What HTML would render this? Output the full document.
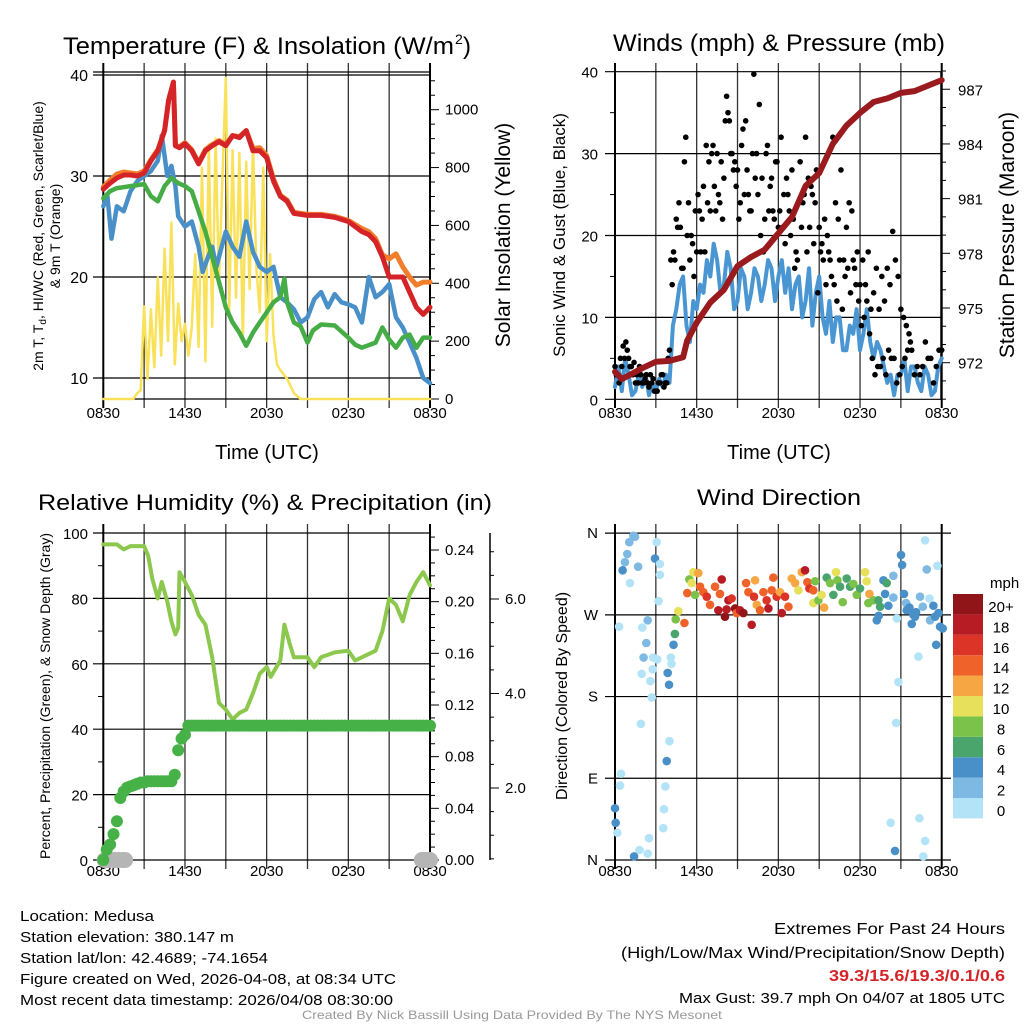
<!DOCTYPE html>
<html><head><meta charset="utf-8"><style>
html,body{margin:0;padding:0;background:#fff;}
svg{display:block;font-family:"Liberation Sans",sans-serif;}
</style></head><body>
<svg id="fig" width="1024" height="1024" viewBox="0 0 1024 1024" xmlns="http://www.w3.org/2000/svg"></svg>
<script>
// ---- Temperature panel data ----
const redTimes=[0,0.5,1,1.5,2,2.5,3,3.5,4,4.5,4.8,5.15,5.3,5.6,6,6.5,7,7.5,8,8.5,9,9.5,10,10.5,11,11.5,12,12.5,13,13.5,14,15,16,17,18,18.5,19,19.5,20,20.5,21,21.5,22,22.5,23,23.5,24];
const tempRed=[28.7,29.3,29.8,30.1,30.1,30.0,30.3,31.5,32.5,34.5,37.5,39.3,33,32.8,33.2,32.5,31.2,32.5,33,33.4,33,34,33.8,34.5,32.5,32.5,31.8,29.5,28,27.5,26.3,26.1,26.1,25.9,25.5,25,24.5,24.2,23.5,22,20,20,20,18.5,17,16.3,17];
const temp9m=[28.9,29.6,30.2,30.4,30.3,30.2,30.5,31.6,32.6,34.5,37.5,39.3,33,32.9,33.3,32.6,31.3,32.6,33.1,33.5,33.1,34,33.9,34.5,32.7,32.8,32,29.7,28.1,27.6,26.4,26.2,26.2,26,25.6,25.2,24.8,24.5,23.8,22.2,21.8,22.3,21,20,19.2,19.5,19.5];
const dewTimes=[0,0.5,1,2,3,3.5,4,4.5,5,5.5,6,6.5,7,7.5,8,8.5,9,9.5,10,10.5,11,11.5,12,12.5,13,13.3,13.5,14,14.5,15,15.4,16,17,18,18.5,19,20,20.5,21,21.5,22,22.5,23,23.5,24];
const dewGreen=[27.8,28.5,28.8,29,29.2,28,27.5,29,29.8,29.3,29,28.5,26.5,24.5,22,19.5,17,15.5,14.5,13.2,14.5,15.5,16.5,17.5,18,19.8,17.5,15.5,15.1,13.5,14.7,15.3,15.2,14,13.3,13,13.5,15,13.8,13,14,14.3,13,14,14];
const hiTimes=[0,0.3,0.6,1,1.5,2,2.5,3,3.5,4,4.3,4.7,5,5.3,5.5,6,6.5,7,7.3,7.7,8,8.3,8.5,9,9.5,10,10.5,11,11.5,12,12.5,13,13.5,14,14.5,15,15.5,16,16.5,17,17.5,18,18.5,19,19.5,20,20.5,21,21.5,22,22.5,23,23.5,24];
const hiBlue=[27,28,23.8,27,26.5,28.5,29.5,30,30.5,31.5,34,30,31,29,26,25,25.5,23,20.5,22,23,21,22,24.5,23,22,25.5,22.5,21,20.5,21,18,17.5,16.8,15.5,16,17.8,18.5,17,18.3,17.5,17.3,17,15.5,20,18,18.5,19.3,16,15,13.5,12,10,9.5];
const insTimes=[0,2.2,2.5,2.75,3,3.25,3.5,3.75,4,4.25,4.5,4.75,5,5.25,5.5,5.75,6,6.25,6.5,6.75,7,7.25,7.5,7.75,8,8.25,8.5,8.75,9,9.25,9.5,9.75,10,10.25,10.5,10.75,11,11.25,11.5,11.75,12,12.25,12.5,12.75,13,13.5,14,14.5,24];
const insolation=[0,0,20,30,320,70,310,110,420,150,520,200,610,120,330,200,260,150,250,500,180,800,130,880,250,900,400,760,1110,300,860,350,850,200,820,380,880,450,300,800,200,500,220,120,100,70,20,0,0];
const tempTicks=[10,20,30,40];
const insTicks=[0,200,400,600,800,1000];
const timeLabels=["0830","1430","2030","0230","0830"];
// ---- Wind panel data ----
const windSpeed=[1.5,4,1,5,3,0.5,1,3,1.5,3,0.5,2,1,2.5,1.5,3,2,9,11,14,15,9,7,12,11,14,13,17,15,19,17,13,14,18,16,11,12,16,15,11,13,16,15,12,14,17,16,12,15,17,13,16,11,14,15,10,12,16,9,13,15,10,8,12,7,10,10,6,6,9,8,11,6,8,11,7,5,7,6,4,2,3,0.5,3,3,5,1,4,4,2,1,4,3,0.5,1,4,5];
const gustA=[4,3,5,6.5,7,5,4,4.5,3,4,2,2.5,2,3,2.5,1,2,3,1.5,2,6,14,17,21,21,16,32,24,20,15,18,23,22,18,24,23,31,23,25,29,27,37,34,30,29,28,24,33,34,25,23,39.7,30,36,27,22,31,26,23,29,21,32,25,27,23,28,16,17,29,24,32,27,26,19,28,21,19,22,20,17,32,24,22,28,17,21,24,23,16,18,14,17,14,18,11,13,16,11,15,12,16,14,20.5,17,15,11,10,9,8,6,3,4,3,4,7,5,5,2,4,6,6];
const gustB=[3,2,4,5,6,4,3,2,2,3,2,3,1.5,2,1,1,2,3,2,5,17,18,22,24,16,29,20,17,19,23,25,18,26,31,29,30,26,30,24,22,34,35,30,28,26,22,31,25,28,23,30,27,25,20,18,30,23,27,22,29,23,21,19,25,20,22,18,24,21,25,18,21,25,24,13,18,17,14,18,15,14,12,17,11,15,16,13,17,14,12,9,10,12,8,5,3,4,4,5,3,6,5,5,2,3,4,5,6,7];
const presTimes=[0,0.5,1,2,3,4,5,5.3,6,7,8,9,10,11,12,13,14,15,16,17,18,19,20,21,22,23,24];
const pressure=[971.5,971.1,971.3,971.7,972.05,972.1,972.3,973.2,974.2,975.3,976,977.3,977.8,978.2,979.1,980,981.7,982.4,984,985,985.7,986.3,986.5,986.8,986.9,987.2,987.5];
const windTicks=[0,10,20,30,40];
const presTicks=[972,975,978,981,984,987];
// ---- RH / precip panel data ----
const rhTimes=[0,1,1.5,2,3,3.3,3.6,4,4.3,4.7,5,5.3,5.5,5.6,6,6.5,7,7.5,8,8.5,9,9.5,10,10.5,11,11.5,12,12.3,13,13.3,13.7,14,15,15.5,16,17,18,18.5,19,20,20.5,21,21.5,22,22.5,23,23.5,24];
const rhValues=[96.5,96.5,95,96,96,93,86,80,85,79,73,69,71,88,85,81,75,72,62,48,46,43,45,46,51,57,59,56,61,72,66,62,62,59,62,63.5,64,61,62,64,70,80,78,73,81,85,88,84];
const precipValues=[0,0.008,0.012,0.02,0.03,0.048,0.053,0.056,0.057,0.058,0.059,0.06,0.06,0.061,0.061,0.061,0.061,0.061,0.061,0.061,0.061,0.066,0.085,0.094,0.097,0.104,0.104,0.104,0.104,0.104,0.104,0.104,0.104,0.104,0.104,0.104,0.104,0.104,0.104,0.104,0.104,0.104,0.104,0.104,0.104,0.104,0.104,0.104,0.104,0.104,0.104,0.104,0.104,0.104,0.104,0.104,0.104,0.104,0.104,0.104,0.104,0.104,0.104,0.104,0.104,0.104,0.104,0.104,0.104,0.104,0.104,0.104,0.104,0.104,0.104,0.104,0.104,0.104,0.104,0.104,0.104,0.104,0.104,0.104,0.104,0.104,0.104,0.104,0.104,0.104,0.104,0.104,0.104,0.104,0.104,0.104,0.104];
const snowTimes=[0.1,0.4,0.8,1.1,1.4,1.6,23.4,23.6,23.8,24];
const snowDepth=[0,0,0,0,0,0,0,0,0,0];
const rhTicks=[0,20,40,60,80,100];
const precipTicks=[0,0.04,0.08,0.12,0.16,0.20,0.24];
const snowTicks=[2.0,4.0,6.0];
// ---- Wind direction data ----
const dirTimes=[1.35,1.47,1.05,0.9,0.73,0.56,1.7,1.1,3.06,2.94,3.3,3.3,3.2,0.3,2.4,2.0,2.3,2.1,2.8,3.1,1.96,2.77,2.6,2.7,1.9,0.44,0.37,0,0.05,0.17,1.4,1.8,2.5,2.4,3.55,3.6,3.7,3.8,4.0,3.97,3.87,4.1,4.15,4.3,4.4,4.46,4.65,5.1,
5.31,5.46,5.76,6.12,5.63,5.88,6.25,6.49,6.74,6.98,7.35,7.59,7.84,7.71,8.08,8.33,8.2,8.57,8.82,8.94,9.18,9.43,9.63,9.8,10.04,10.21,10.29,10.41,10.65,10.9,11.14,11.27,11.51,11.63,11.88,12.12,12.25,12.49,12.74,12.98,13.23,13.47,13.72,13.96,14.13,14.28,14.57,14.7,14.57,14.94,15.18,15.36,15.55,15.8,16.04,16.24,16.34,16.53,16.73,17.02,17.27,17.51,17.76,18.0,18.37,18.49,18.69,18.61,18.98,19.35,19.47,19.72,19.96,20.08,19.84,20.45,20.45,20.7,21.01,21.09,21.23,21.38,21.63,21.92,21.8,22.12,22.29,22.41,22.61,22.78,22.9,23.1,23.14,23.39,23.51,23.59,23.68,23.76,23.88,24.07,19.23,19.37,20.82,20.65,20.25,20.57,22.36,22.78,22.65,21.43,22.04];
const dirDegrees=[357,356,350,337,328,319,323,305,350,332,326,314,285,257,264,256,239,223,223,221,205,210,197,179,150,95,82,57,41,30,4,11,24,7,35,56,81,109,131,193,206,223,216,237,249,265,274,261,
294,309,317,316,305,292,301,295,290,281,301,275,309,293,268,286,276,288,277,272,275,272,305,295,259,290,308,281,275,295,286,277,297,311,290,295,272,290,279,310,305,297,317,319,306,299,297,307,283,286,292,278,311,305,292,317,308,301,284,310,301,304,292,299,317,307,293,283,286,286,279,308,305,280,293,313,289,266,336,325,293,283,278,270,260,273,224,290,279,352,320,288,264,280,268,237,324,272,257,255,264,269,196,151,41,10,46,21,4,275,268];
const dirSpeeds=[2,2,3,3,3,4,3,1,1,4,1,1,1,1,3,1,3,3,1,1,1,1,1,1,1,1,1,4,4,1,4,1,1,1,1,1,1,4,1,4,4,1,1,4,6,8,10,14,
14,8,10,12,10,8,14,14,16,14,14,18,18,14,20,18,18,16,20,14,18,20,14,14,18,16,12,12,14,14,16,18,14,14,16,12,18,16,14,12,12,10,12,18,14,16,14,8,10,8,10,12,6,8,6,10,8,6,8,6,6,8,8,6,10,10,12,8,8,6,6,4,6,4,4,2,2,0,4,4,4,2,4,4,4,4,1,2,2,1,2,1,2,4,4,4,1,4,4,4,4,4,1,1,1,4,1,1,1,4,4];
const dirLabels=["N","E","S","W","N"];
const speedBins=["0","2","4","6","8","10","12","14","16","18","20+"];
const binColors=["#b3e3f7","#7db9e2","#4a90c8","#4aa56d","#7bc24a","#e6e05a","#f6a744","#ef6229","#dc3426","#b71c24","#8f1518"];

const NS="http://www.w3.org/2000/svg";
const svg=document.getElementById('fig');
function mk(tag,attrs,parent){const e=document.createElementNS(NS,tag);for(const k in attrs)e.setAttribute(k,attrs[k]);(parent||svg).appendChild(e);return e;}
function txt(s,x,y,size,anchor,parent,extra){const e=mk('text',Object.assign({x:x,y:y,'font-size':size,'text-anchor':anchor||'start',fill:'#000'},extra||{}),parent);e.textContent=s;return e;}
function poly(ts,vs,fx,fy,stroke,w,parent){let d='';for(let i=0;i<ts.length;i++)d+=(i?'L':'M')+fx(ts[i]).toFixed(1)+','+fy(vs[i]).toFixed(1);return mk('path',{d:d,fill:'none',stroke:stroke,'stroke-width':w,'stroke-linejoin':'round','stroke-linecap':'round'},parent);}

function xGrid(g,x0,y0,y1,xf,labY){
  for(let h=0;h<=24;h+=3){const x=xf(h);mk('line',{x1:x,y1:y0-9,x2:x,y2:y1+9,stroke:(h===0||h===24)?'#000':'#333','stroke-width':(h===0||h===24)?2:1.3},g);}
  for(let i=0;i<timeLabels.length;i++){const t=txt(timeLabels[i],xf(i*6),labY,15,'middle',g);}
}

// ===== Panel 1: temperature =====
{
const g=mk('g',{});
const X=h=>103.3+h*13.613, Y=v=>378-(v-10)*10.1, YS=w=>399-w*0.2893;
xGrid(g,103,72,399,X,418);
for(const v of tempTicks){mk('line',{x1:93,y1:Y(v),x2:430,y2:Y(v),stroke:'#000','stroke-width':1.2},g);const t=txt(String(v),88,Y(v)+6,16,'end',g);}
mk('line',{x1:93,y1:72,x2:430,y2:72,stroke:'#000','stroke-width':1.2},g);
mk('line',{x1:103,y1:399,x2:430,y2:399,stroke:'#000','stroke-width':1.2},g);
mk('line',{x1:430,y1:72,x2:430,y2:399,stroke:'#000','stroke-width':1.5},g);
for(let w=0;w<=1100;w+=50){const big=w%200===0;mk('line',{x1:430,y1:YS(w),x2:430+(big?9:5),y2:YS(w),stroke:'#000','stroke-width':1},g);}
for(const w of insTicks){const t=txt(String(w),445,YS(w)+5,15,'start',g);}
const ins=poly(insTimes,insolation,X,YS,'#f9e25a',2.5,g);
const hi=poly(hiTimes,hiBlue,X,Y,'#4a90c8',4.5,g);
const dg=poly(dewTimes,dewGreen,X,Y,'#46ad46',4.5,g);
const o=poly(redTimes,temp9m,X,Y,'#f27e2c',5,g);
const r=poly(redTimes,tempRed,X,Y,'#d42428',5,g);
const t1=txt('Temperature (F) & Insolation (W/m',63,54,24,'start',g,{textLength:391,lengthAdjust:'spacingAndGlyphs'});
const sup=txt('2',455,44,14,'start',g);
const cp=txt(')',463,54,24,'start',g);
const yt=mk('text',{transform:'translate(43,236) rotate(-90)','font-size':14,'text-anchor':'middle'},g);yt.innerHTML='2m T, T<tspan font-size="10" dy="3">d</tspan><tspan dy="-3">, HI/WC (Red, Green, Scarlet/Blue)</tspan>';
const yt2=txt('& 9m T (Orange)',0,0,14,'middle',g,{transform:'translate(60,236) rotate(-90)'});
const yr=txt('Solar Insolation (Yellow)',0,0,21,'middle',g,{transform:'translate(510,235) rotate(-90)'});
const xt=txt('Time (UTC)',267,459,20,'middle',g);
}
// ===== Panel 2: winds =====
{
const g=mk('g',{});
const X=h=>615+h*13.613, Y=v=>399.3-v*8.19, YP=p=>362.7-(p-972)*18.23;
xGrid(g,615,72,399,X,418);
for(const v of windTicks){mk('line',{x1:605,y1:Y(v),x2:941,y2:Y(v),stroke:'#000','stroke-width':1.2},g);const t=txt(String(v),598,Y(v)+6,15,'end',g);}
for(let v=5;v<40;v+=10)mk('line',{x1:610,y1:Y(v),x2:615,y2:Y(v),stroke:'#000'},g);
mk('line',{x1:941,y1:72,x2:941,y2:399,stroke:'#000','stroke-width':1.5},g);
for(let p=970;p<=988;p+=1){const big=(p-972)%3===0;mk('line',{x1:941,y1:YP(p),x2:941+(big?9:5),y2:YP(p),stroke:'#000'},g);}
for(const p of presTicks){const t=txt(String(p),958,YP(p)+6,15,'start',g);}
const ws=windSpeed.map((v,i)=>i*0.25);
const wl=poly(ws,windSpeed,X,Y,'#4a96d2',4,g);
for(let i=0;i<gustA.length;i++){const c=mk('circle',{cx:X(i*0.2),cy:Y(gustA[i]),r:2.8,fill:'#000'},g);}
for(let i=0;i<gustB.length;i++){const c=mk('circle',{cx:X(0.1+i*0.2),cy:Y(gustB[i]),r:2.8,fill:'#000'},g);}
const pl=poly(presTimes,pressure,X,YP,'#9a1b1e',6,g);
const t1=txt('Winds (mph) & Pressure (mb)',779,51,24,'middle',g,{textLength:332,lengthAdjust:'spacingAndGlyphs'});
const yl=txt('Sonic Wind & Gust (Blue, Black)',0,0,17,'middle',g,{transform:'translate(565,235) rotate(-90)'});
const yr=txt('Station Pressure (Maroon)',0,0,21,'middle',g,{transform:'translate(1014,235) rotate(-90)'});
const xt=txt('Time (UTC)',779,459,20,'middle',g);
}
// ===== Panel 3: RH / precip =====
{
const g=mk('g',{});
const X=h=>103.3+h*13.613, Y=v=>860-v*3.27, YP=p=>860-p*1291.7, YSn=s=>882.5-s*47.25;
xGrid(g,103,533,860,X,876);
for(const v of rhTicks){mk('line',{x1:93,y1:Y(v),x2:430,y2:Y(v),stroke:'#000','stroke-width':1.2},g);const t=txt(String(v),88,Y(v)+6,15,'end',g);}
for(let v=10;v<100;v+=20)mk('line',{x1:98,y1:Y(v),x2:103,y2:Y(v),stroke:'#000'},g);
mk('line',{x1:430,y1:533,x2:430,y2:860,stroke:'#000','stroke-width':1.5},g);
for(let k=0;k<=25;k++){const p=k*0.01;const big=k%4===0;mk('line',{x1:430,y1:YP(p),x2:430+(big?9:5),y2:YP(p),stroke:'#000'},g);}
for(const p of precipTicks){const t=txt(p.toFixed(2),445,YP(p)+5,15,'start',g);}
mk('line',{x1:490,y1:533,x2:490,y2:860,stroke:'#000','stroke-width':1.5},g);
for(let s=0.5;s<=7;s+=0.5){const big=Math.abs(s%2)<0.01;mk('line',{x1:490,y1:YSn(s),x2:490+(big?9:4),y2:YSn(s),stroke:'#000'},g);}
for(const s of snowTicks){const t=txt(s.toFixed(1),505,YSn(s)+5,15,'start',g);}
const rl=poly(rhTimes,rhValues,X,Y,'#8dc84e',4,g);
for(let i=0;i<snowTimes.length;i++){const c=mk('circle',{cx:X(snowTimes[i]),cy:YP(snowDepth[i]),r:8,fill:'#b5b5b5'},g);}
for(let i=0;i<precipValues.length;i++){const c=mk('circle',{cx:X(i*0.25),cy:YP(precipValues[i]),r:6,fill:'#46b146'},g);}
const t1=txt('Relative Humidity (%) & Precipitation (in)',265,510,22,'middle',g,{textLength:454,lengthAdjust:'spacingAndGlyphs'});
const yl=txt('Percent, Precipitation (Green), & Snow Depth (Gray)',0,0,14,'middle',g,{transform:'translate(50,696) rotate(-90)'});
}
// ===== Panel 4: wind direction =====
{
const g=mk('g',{});
const X=h=>615+h*13.613, Y=d=>860-d*0.908;
xGrid(g,615,533,860,X,876);
for(let i=0;i<dirLabels.length;i++){const d=i*90;mk('line',{x1:605,y1:Y(d),x2:951,y2:Y(d),stroke:'#000','stroke-width':1.2},g);const t=txt(dirLabels[i],598,Y(d)+5,15,'end',g);}
for(let i=0;i<dirTimes.length;i++){const s=dirSpeeds[i];const b=Math.min(10,Math.floor(s/2+0.25));const c=mk('circle',{cx:X(dirTimes[i]),cy:Y(dirDegrees[i]),r:4.3,fill:binColors[b]},g);}
const cb=mk('g',{},g);
for(let i=0;i<speedBins.length;i++){const y=798-i*20.4;mk('rect',{x:953,y:y,width:30,height:20.4,fill:binColors[i]},cb);const t=txt(speedBins[i],1001,y+18,15,'middle',cb);}
const mph=txt('mph',990,588,15,'start',cb);
const t1=txt('Wind Direction',779,505,22,'middle',g,{textLength:164,lengthAdjust:'spacingAndGlyphs'});
const yl=txt('Direction (Colored By Speed)',0,0,16,'middle',g,{transform:'translate(567,696) rotate(-90)'});
}
// ===== Footer =====
{
const g=mk('g',{});
const left=["Location: Medusa","Station elevation: 380.147 m","Station lat/lon: 42.4689; -74.1654","Figure created on Wed, 2026-04-08, at 08:34 UTC","Most recent data timestamp: 2026/04/08 08:30:00"];
const lw=[134,214,248,376,373];
for(let i=0;i<left.length;i++){const t=txt(left[i],20,921+i*21,15,'start',g,{textLength:lw[i],lengthAdjust:'spacingAndGlyphs'});}
const r1=txt('Extremes For Past 24 Hours',1005,934,16,'end',g,{textLength:231,lengthAdjust:'spacingAndGlyphs'});
const r2=txt('(High/Low/Max Wind/Precipitation/Snow Depth)',1005,958,16,'end',g,{textLength:384,lengthAdjust:'spacingAndGlyphs'});
const r3=txt('39.3/15.6/19.3/0.1/0.6',1005,981,16,'end',g,{fill:'#d42428','font-weight':'bold',textLength:176,lengthAdjust:'spacingAndGlyphs'});
const r4=txt('Max Gust: 39.7 mph On 04/07 at 1805 UTC',1005,1003,15,'end',g,{textLength:326,lengthAdjust:'spacingAndGlyphs'});
const c=txt('Created By Nick Bassill Using Data Provided By The NYS Mesonet',512,1019,12,'middle',g,{fill:'#999',textLength:420,lengthAdjust:'spacingAndGlyphs'});
}
</script>
</body></html>
